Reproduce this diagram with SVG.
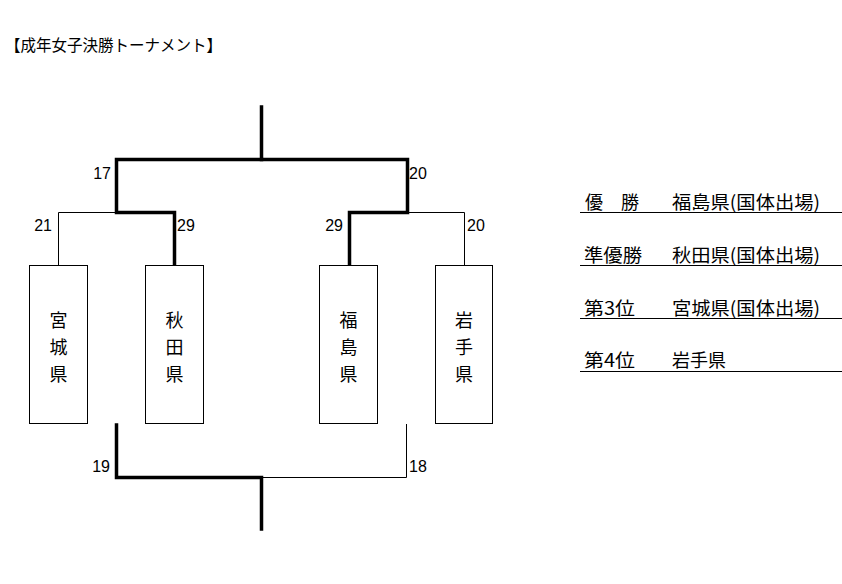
<svg xmlns="http://www.w3.org/2000/svg" width="842" height="584" viewBox="0 0 842 584">
<style>
text{font-family:"Noto Sans CJK JP","Noto Sans",sans-serif;fill:#000}
.t{font-size:16px}
.n{font-size:16px;font-family:"Liberation Sans","Noto Sans",sans-serif}
.b{font-size:18px;text-anchor:middle}
.r{font-size:18px}
.box{fill:#fff;stroke:#000;stroke-width:1}
.thin{fill:none;stroke:#000;stroke-width:1}
.thick{fill:none;stroke:#000;stroke-width:3.5;stroke-linejoin:miter;stroke-linecap:square}
.rule{stroke:#000;stroke-width:1}
</style>
<rect width="842" height="584" fill="#fff"/>
<text class="t" x="5" y="51" textLength="217" lengthAdjust="spacingAndGlyphs">【成年女子決勝トーナメント】</text>
<g id="connectors">
<path class="thin" d="M116.5 159.5H261.5M58.5 265V212.5H116.5M407.5 212.5H464.5V265M261.5 477.5H406.5V424"/>
<path class="thick" d="M261.5 107V159.5H407.5V212.5H349.5V264"/>
<path class="thick" d="M261.5 159.5H116.5V212.5H174.5V264"/>
<path class="thick" d="M116.5 425V477.5H261.5V529"/>
</g>
<g id="scores">
<text class="n" x="111" y="179" text-anchor="end">17</text>
<text class="n" x="409" y="179">20</text>
<text class="n" x="52" y="231" text-anchor="end">21</text>
<text class="n" x="177" y="231">29</text>
<text class="n" x="343" y="231" text-anchor="end">29</text>
<text class="n" x="467" y="231">20</text>
<text class="n" x="110" y="472" text-anchor="end">19</text>
<text class="n" x="409" y="472">18</text>
</g>
<g id="miyagi"><rect class="box" x="29.5" y="265.5" width="58" height="158"/><text class="b" x="58.5" y="327">宮</text><text class="b" x="58.5" y="354">城</text><text class="b" x="58.5" y="381">県</text></g>
<g id="akita"><rect class="box" x="145.5" y="265.5" width="58" height="158"/><text class="b" x="174.5" y="327">秋</text><text class="b" x="174.5" y="354">田</text><text class="b" x="174.5" y="381">県</text></g>
<g id="fukushima"><rect class="box" x="319.5" y="265.5" width="58" height="158"/><text class="b" x="348.5" y="327">福</text><text class="b" x="348.5" y="354">島</text><text class="b" x="348.5" y="381">県</text></g>
<g id="iwate"><rect class="box" x="435.5" y="265.5" width="57" height="158"/><text class="b" x="464" y="327">岩</text><text class="b" x="464" y="354">手</text><text class="b" x="464" y="381">県</text></g>
<g id="results">
<line class="rule" x1="580" y1="212.5" x2="842" y2="212.5"/>
<line class="rule" x1="580" y1="265.5" x2="842" y2="265.5"/>
<line class="rule" x1="580" y1="318.5" x2="842" y2="318.5"/>
<line class="rule" x1="580" y1="371.5" x2="842" y2="371.5"/>
<text class="r" x="585" y="209">優　勝</text>
<text class="r" x="672" y="209" textLength="148" lengthAdjust="spacingAndGlyphs">福島県(国体出場)</text>
<text class="r" x="584" y="262" textLength="58" lengthAdjust="spacingAndGlyphs">準優勝</text>
<text class="r" x="672" y="262" textLength="148" lengthAdjust="spacingAndGlyphs">秋田県(国体出場)</text>
<text class="r" x="584" y="315" textLength="51" lengthAdjust="spacingAndGlyphs">第3位</text>
<text class="r" x="672" y="315" textLength="148" lengthAdjust="spacingAndGlyphs">宮城県(国体出場)</text>
<text class="r" x="584" y="367" textLength="51" lengthAdjust="spacingAndGlyphs">第4位</text>
<text class="r" x="672" y="367">岩手県</text>
</g>
</svg>
